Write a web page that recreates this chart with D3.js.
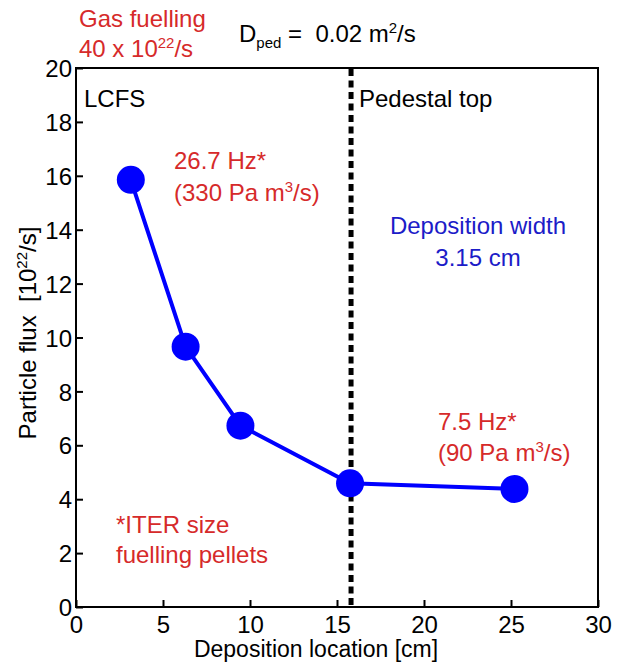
<!DOCTYPE html>
<html><head><meta charset="utf-8">
<script src="https://cdn.jsdelivr.net/npm/d3@7"></script>
<style>
body{margin:0;background:#fff;}
text{font-family:"Liberation Sans",Arial,sans-serif;}
</style></head>
<body><svg id="c" width="622" height="662"></svg>
<script>
const xValues = [3.15, 6.3, 9.45, 15.75, 25.2];
const fluxValues = [15.85, 9.66, 6.73, 4.59, 4.38];
const pedestalX = 15.75;
const xTicks = [0, 5, 10, 15, 20, 25, 30];
const yTicks = [0, 2, 4, 6, 8, 10, 12, 14, 16, 18, 20];

const svg = d3.select("#c");
const L = 76, R = 598, T = 68, B = 607;
const x = d3.scaleLinear().domain([0, 30]).range([L, R]);
const y = d3.scaleLinear().domain([0, 20]).range([B, T]);
const red = "#d62a2a", blue = "#1c1cc8";
const FS = 24, SS = 15;

// axes
const xAxis = svg.append("g").attr("transform", `translate(0,${B})`)
  .call(d3.axisBottom(x).tickValues(xTicks).tickSizeInner(-7).tickSizeOuter(0).tickPadding(0));
const yAxis = svg.append("g").attr("transform", `translate(${L},0)`)
  .call(d3.axisLeft(y).tickValues(yTicks).tickSizeInner(-7).tickSizeOuter(0).tickPadding(4));
[xAxis, yAxis].forEach(a => {
  a.select(".domain").remove();
  a.selectAll("line").attr("stroke", "#000").attr("stroke-width", 2);
  a.selectAll("text").attr("font-size", FS).attr("fill", "#000")
    .attr("font-family", "Liberation Sans, Arial, sans-serif");
});
xAxis.selectAll(".tick text").attr("y", 26).attr("dy", 0);
yAxis.selectAll(".tick text").attr("dy", "0.36em");
svg.append("rect").attr("x", L).attr("y", T).attr("width", R - L).attr("height", B - T)
  .attr("fill", "none").attr("stroke", "#000").attr("stroke-width", 2);

// pedestal line
svg.append("line").attr("x1", x(pedestalX) + 1).attr("x2", x(pedestalX) + 1)
  .attr("y1", y(20) + 1).attr("y2", y(0))
  .attr("stroke", "#000").attr("stroke-width", 5).attr("stroke-dasharray", "7,4.5");

// series
const pts = xValues.map((v, i) => [v, fluxValues[i]]);
svg.append("path").datum(pts)
  .attr("d", d3.line().x(d => x(d[0])).y(d => y(d[1])))
  .attr("fill", "none").attr("stroke", "#0000ff").attr("stroke-width", 4);
svg.selectAll("circle.pt").data(pts).enter().append("circle")
  .attr("cx", d => x(d[0])).attr("cy", d => y(d[1])).attr("r", 14).attr("fill", "#0000ff");

// text helper: parts = [text, kind] where kind: undefined | "sup" | "sub"
function txt(xp, yp, color, anchor, parts, parent, size) {
  const t = (parent || svg).append("text").attr("x", xp).attr("y", yp).attr("fill", color)
    .attr("font-size", size || FS).attr("text-anchor", anchor);
  let shift = 0;
  parts.forEach(p => {
    const s = t.append("tspan").text(p[0]);
    let target = 0;
    if (p[1] === "sup") { s.attr("font-size", SS); target = -9; }
    else if (p[1] === "sub") { s.attr("font-size", SS); target = 6; }
    if (target !== shift) { s.attr("dy", target - shift); shift = target; }
  });
  return t;
}

txt(79, 27, red, "start", [["Gas fuelling"]]);
txt(79, 57, red, "start", [["40 x 10"], ["22", "sup"], ["/s"]]);
txt(239, 42, "#000", "start", [["D"], ["ped", "sub"], [" =\u00a0\u00a00.02 m"], ["2", "sup"], ["/s"]]);

txt(84, 107, "#000", "start", [["LCFS"]]);
txt(359, 107, "#000", "start", [["Pedestal top"]]);

txt(174, 169, red, "start", [["26.7 Hz*"]]);
txt(174, 201, red, "start", [["(330 Pa m"], ["3", "sup"], ["/s)"]]);

txt(478, 234, blue, "middle", [["Deposition width"]]);
txt(478, 266, blue, "middle", [["3.15 cm"]]);

txt(438, 430, red, "start", [["7.5 Hz*"]]);
txt(438, 461, red, "start", [["(90 Pa m"], ["3", "sup"], ["/s)"]]);

txt(116, 533, red, "start", [["*ITER size"]]);
txt(116, 563, red, "start", [["fuelling pellets"]]);

txt(316, 657, "#000", "middle", [["Deposition location [cm]"]], null, 23);
const yg = svg.append("g").attr("transform", "translate(36,333) rotate(-90)");
txt(0, 0, "#000", "middle", [["Particle flux\u00a0\u00a0[10"], ["22", "sup"], ["/s]"]], yg);
</script></body></html>
